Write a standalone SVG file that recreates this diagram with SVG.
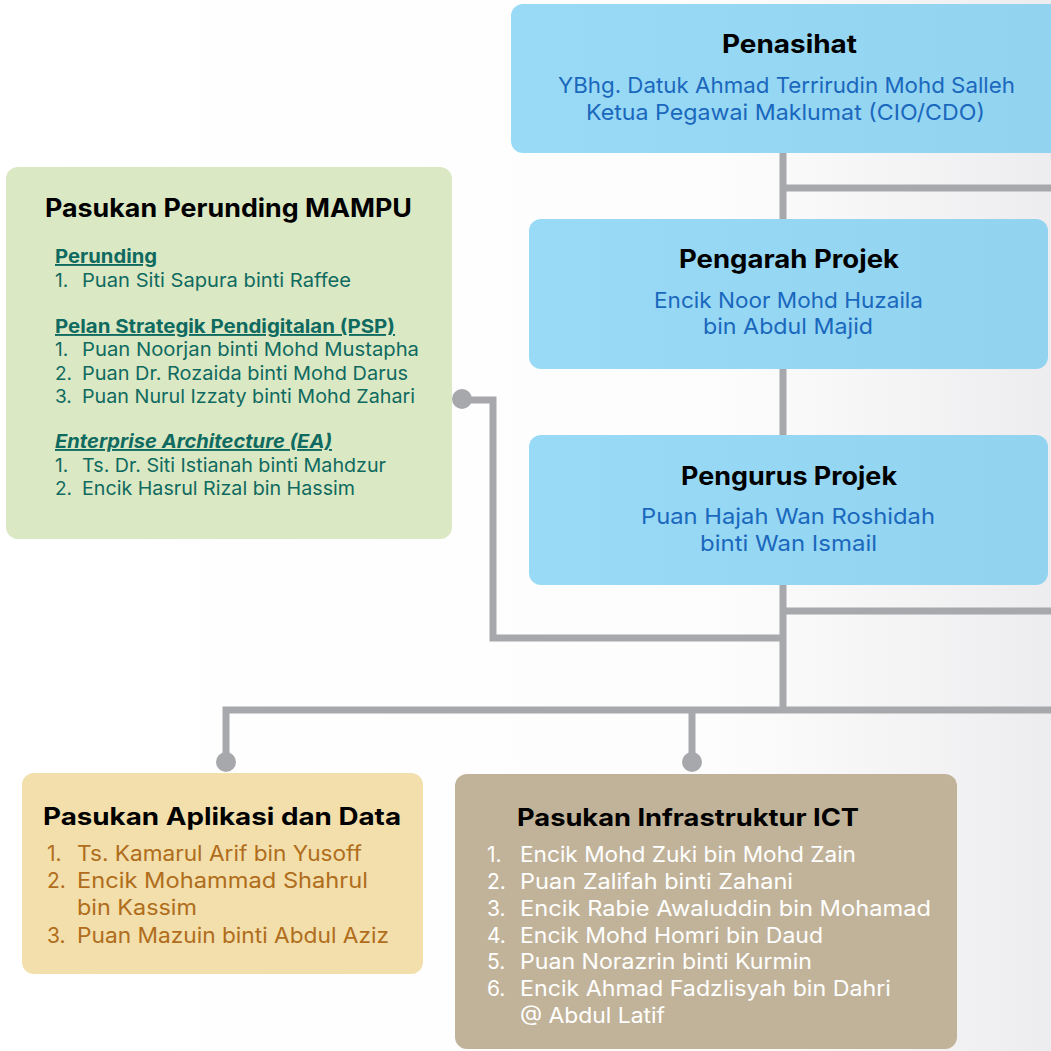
<svg xmlns="http://www.w3.org/2000/svg" width="1051" height="1051" viewBox="0 0 1051 1051">
<defs>
<linearGradient id="bg" x1="0" y1="0" x2="1" y2="0">
<stop offset="0" stop-color="#ffffff"/>
<stop offset="0.68" stop-color="#fdfdfd"/>
<stop offset="1" stop-color="#ededef"/>
</linearGradient>
<linearGradient id="blue" x1="0" y1="0" x2="1" y2="0">
<stop offset="0" stop-color="#99daf6"/>
<stop offset="1" stop-color="#92d3f0"/>
</linearGradient>
<style>
.f{font-family:Inter,'Liberation Sans',sans-serif}
.title{font-weight:700;fill:#000000}
.bname{fill:#1a68bd;font-size:22px}
.gi{fill:#0f6a60;font-size:19px}
.gh{fill:#0f6a60;font-size:19px;font-weight:700;text-decoration:underline}
.yi{fill:#b06d1c;font-size:21px}
.ti{fill:#ffffff;font-size:21px}
.conn{fill:none;stroke:#a7a8ab;stroke-width:7;stroke-linejoin:miter;stroke-linecap:butt}
.dot{fill:#a7a8ab}
</style>
</defs>
<rect x="0" y="0" width="1051" height="1051" fill="url(#bg)"/>

<g id="connectors">
<path class="conn" d="M783,153 V713"/>
<path class="conn" d="M783,188 H1051"/>
<path class="conn" d="M783,611 H1051"/>
<path class="conn" d="M462,400 H493 V638 H783"/>
<path class="conn" d="M226,762 V710 H1051"/>
<path class="conn" d="M692,710 V762"/>
<circle class="dot" cx="462" cy="399" r="10"/>
<circle class="dot" cx="226" cy="762" r="10"/>
<circle class="dot" cx="692" cy="762" r="10"/>
</g>

<g id="penasihat">
<rect x="511" y="4" width="560" height="149" rx="12" fill="url(#blue)"/>
<text class="f title" x="722" y="53" font-size="25" textLength="135" lengthAdjust="spacingAndGlyphs">Penasihat</text>
<text class="f bname" x="558" y="93" textLength="457" lengthAdjust="spacingAndGlyphs">YBhg. Datuk Ahmad Terrirudin Mohd Salleh</text>
<text class="f bname" x="586" y="120" textLength="399" lengthAdjust="spacingAndGlyphs">Ketua Pegawai Maklumat (CIO/CDO)</text>
</g>

<g id="pengarah">
<rect x="529" y="219" width="519" height="150" rx="12" fill="url(#blue)"/>
<text class="f title" x="679" y="268" font-size="25" textLength="220" lengthAdjust="spacingAndGlyphs">Pengarah Projek</text>
<text class="f bname" x="654" y="308" textLength="269" lengthAdjust="spacingAndGlyphs">Encik Noor Mohd Huzaila</text>
<text class="f bname" x="703" y="334" textLength="170" lengthAdjust="spacingAndGlyphs">bin Abdul Majid</text>
</g>

<g id="pengurus">
<rect x="529" y="435" width="519" height="150" rx="12" fill="url(#blue)"/>
<text class="f title" x="681" y="485" font-size="25" textLength="216" lengthAdjust="spacingAndGlyphs">Pengurus Projek</text>
<text class="f bname" x="641" y="524" textLength="294" lengthAdjust="spacingAndGlyphs">Puan Hajah Wan Roshidah</text>
<text class="f bname" x="700" y="551" textLength="177" lengthAdjust="spacingAndGlyphs">binti Wan Ismail</text>
</g>

<g id="perunding">
<rect x="6" y="167" width="446" height="372" rx="12" fill="#dbe8c4"/>
<text class="f title" x="45" y="217" font-size="25" textLength="367" lengthAdjust="spacingAndGlyphs">Pasukan Perunding MAMPU</text>
<text class="f gh" x="55" y="263" textLength="102" lengthAdjust="spacingAndGlyphs">Perunding</text>
<text class="f gi" x="55" y="287">1.</text>
<text class="f gi" x="82" y="287" textLength="269" lengthAdjust="spacingAndGlyphs">Puan Siti Sapura binti Raffee</text>
<text class="f gh" x="55" y="333" textLength="340" lengthAdjust="spacingAndGlyphs">Pelan Strategik Pendigitalan (PSP)</text>
<text class="f gi" x="55" y="356">1.</text>
<text class="f gi" x="82" y="356" textLength="337" lengthAdjust="spacingAndGlyphs">Puan Noorjan binti Mohd Mustapha</text>
<text class="f gi" x="55" y="380">2.</text>
<text class="f gi" x="82" y="380" textLength="326" lengthAdjust="spacingAndGlyphs">Puan Dr. Rozaida binti Mohd Darus</text>
<text class="f gi" x="55" y="403">3.</text>
<text class="f gi" x="82" y="403" textLength="333" lengthAdjust="spacingAndGlyphs">Puan Nurul Izzaty binti Mohd Zahari</text>
<text class="f gh" x="55" y="448" font-style="italic" textLength="277" lengthAdjust="spacingAndGlyphs">Enterprise Architecture (EA)</text>
<text class="f gi" x="55" y="472">1.</text>
<text class="f gi" x="82" y="472" textLength="304" lengthAdjust="spacingAndGlyphs">Ts. Dr. Siti Istianah binti Mahdzur</text>
<text class="f gi" x="55" y="495">2.</text>
<text class="f gi" x="82" y="495" textLength="273" lengthAdjust="spacingAndGlyphs">Encik Hasrul Rizal bin Hassim</text>
</g>

<g id="aplikasi">
<rect x="22" y="773" width="401" height="201" rx="12" fill="#f2dfab"/>
<text class="f title" x="43" y="825" font-size="24" textLength="358" lengthAdjust="spacingAndGlyphs">Pasukan Aplikasi dan Data</text>
<text class="f yi" x="47" y="861">1.</text>
<text class="f yi" x="77" y="861" textLength="285" lengthAdjust="spacingAndGlyphs">Ts. Kamarul Arif bin Yusoff</text>
<text class="f yi" x="47" y="888">2.</text>
<text class="f yi" x="77" y="888" textLength="291" lengthAdjust="spacingAndGlyphs">Encik Mohammad Shahrul</text>
<text class="f yi" x="77" y="915" textLength="120" lengthAdjust="spacingAndGlyphs">bin Kassim</text>
<text class="f yi" x="47" y="943">3.</text>
<text class="f yi" x="77" y="943" textLength="312" lengthAdjust="spacingAndGlyphs">Puan Mazuin binti Abdul Aziz</text>
</g>

<g id="infrastruktur">
<rect x="455" y="774" width="502" height="275" rx="12" fill="#c1b399"/>
<text class="f title" x="517" y="826" font-size="24" textLength="342" lengthAdjust="spacingAndGlyphs">Pasukan Infrastruktur ICT</text>
<text class="f ti" x="487" y="862">1.</text>
<text class="f ti" x="520" y="862" textLength="336" lengthAdjust="spacingAndGlyphs">Encik Mohd Zuki bin Mohd Zain</text>
<text class="f ti" x="487" y="889">2.</text>
<text class="f ti" x="520" y="889" textLength="273" lengthAdjust="spacingAndGlyphs">Puan Zalifah binti Zahani</text>
<text class="f ti" x="487" y="916">3.</text>
<text class="f ti" x="520" y="916" textLength="411" lengthAdjust="spacingAndGlyphs">Encik Rabie Awaluddin bin Mohamad</text>
<text class="f ti" x="487" y="943">4.</text>
<text class="f ti" x="520" y="943" textLength="303" lengthAdjust="spacingAndGlyphs">Encik Mohd Homri bin Daud</text>
<text class="f ti" x="487" y="969">5.</text>
<text class="f ti" x="520" y="969" textLength="292" lengthAdjust="spacingAndGlyphs">Puan Norazrin binti Kurmin</text>
<text class="f ti" x="487" y="996">6.</text>
<text class="f ti" x="520" y="996" textLength="371" lengthAdjust="spacingAndGlyphs">Encik Ahmad Fadzlisyah bin Dahri</text>
<text class="f ti" x="520" y="1023" textLength="145" lengthAdjust="spacingAndGlyphs">@ Abdul Latif</text>
</g>
</svg>
